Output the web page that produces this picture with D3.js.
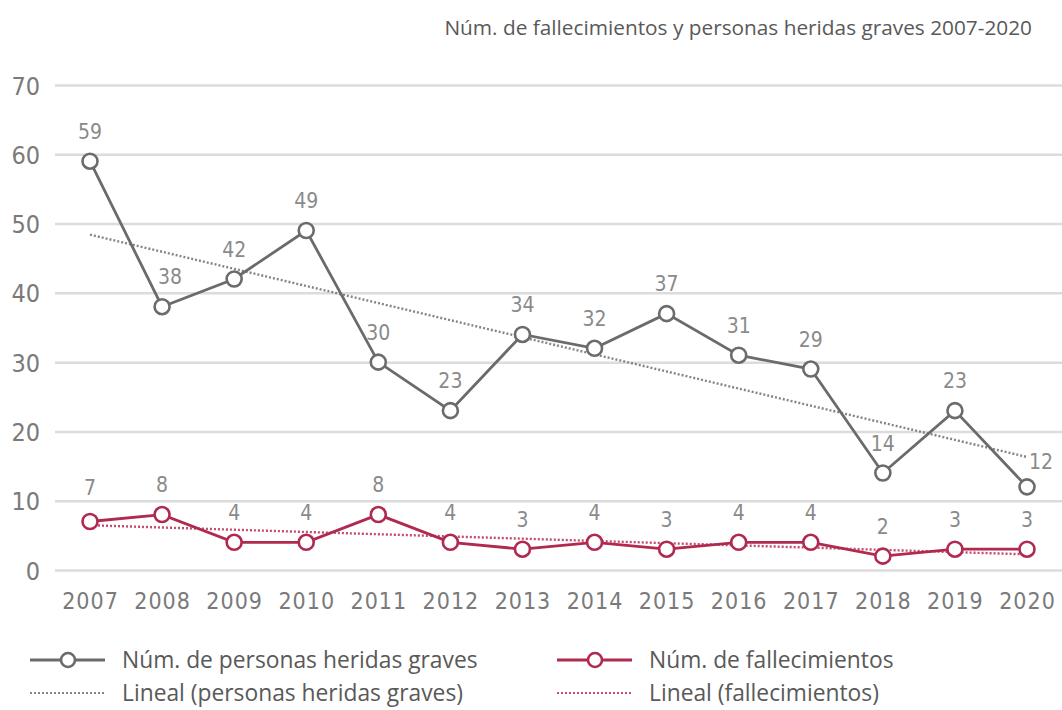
<!DOCTYPE html>
<html><head><meta charset="utf-8">
<script src="https://cdn.jsdelivr.net/npm/d3@7"></script>
<style>
html,body{margin:0;padding:0;background:#fff;}
svg{display:block;}
</style></head>
<body>
<svg id="chart" width="1062" height="710"></svg>
<script>
const years = ["2007","2008","2009","2010","2011","2012","2013","2014","2015","2016","2017","2018","2019","2020"];
const heridas = [59,38,42,49,30,23,34,32,37,31,29,14,23,12];
const fallecimientos = [7,8,4,4,8,4,3,4,3,4,4,2,3,3];
const yTicks = [0,10,20,30,40,50,60,70];
const title = "Núm. de fallecimientos y personas heridas graves 2007-2020";
const legendLabels = ["Núm. de personas heridas graves","Núm. de fallecimientos","Lineal (personas heridas graves)","Lineal (fallecimientos)"];

const grey = "#6b6b6b", red = "#b02a50", greyTrend = "#858585", redTrend = "#c44b6e";
const numFont = "'DejaVu Sans Condensed', 'DejaVu Sans', sans-serif";
const svg = d3.select("#chart");

const x = d3.scalePoint().domain(years).range([90, 1027]);
const y = d3.scaleLinear().domain([0, 70]).range([570, 85]);

// title
svg.append("text").attr("x", 1032).attr("y", 35).attr("text-anchor", "end")
  .attr("font-family", "Open Sans, sans-serif").attr("font-size", 20.8).attr("fill", "#595959").text(title);

// gridlines + y axis
const yAxis = d3.axisLeft(y).tickValues(yTicks).tickSize(-(1062 - 55)).tickPadding(14);
const gy = svg.append("g").attr("transform", "translate(55,0)").call(yAxis);
gy.select(".domain").remove();
gy.selectAll(".tick line").attr("stroke", "#dcdcdc").attr("stroke-width", 2.5);
gy.selectAll(".tick text").attr("font-family", numFont).attr("font-size", 25)
  .attr("fill", "#7a7a7a").attr("x", -15).attr("dy", "0.36em");

// x axis
const xAxis = d3.axisBottom(x).tickSize(0).tickPadding(0);
const gx = svg.append("g").attr("transform", "translate(0,601)").call(xAxis);
gx.select(".domain").remove();
gx.selectAll(".tick text").attr("font-family", numFont).attr("font-size", 23)
  .attr("fill", "#7a7a7a").attr("dy", "0.36em").attr("letter-spacing", "1");

// regression trend lines
function fit(vals) {
  const n = vals.length, xs = d3.range(n);
  const mx = d3.mean(xs), my = d3.mean(vals);
  const b = d3.sum(xs, i => (i - mx) * (vals[i] - my)) / d3.sum(xs, i => (i - mx) ** 2);
  const a = my - b * mx;
  return [[0, a], [n - 1, a + b * (n - 1)]];
}
const trendLine = d3.line().x(d => x(years[d[0]])).y(d => y(d[1]));
svg.append("path").attr("d", trendLine(fit(heridas))).attr("fill", "none")
  .attr("stroke", greyTrend).attr("stroke-width", 2.4).attr("stroke-dasharray", "2,2");
svg.append("path").attr("d", trendLine(fit(fallecimientos))).attr("fill", "none")
  .attr("stroke", redTrend).attr("stroke-width", 2.4).attr("stroke-dasharray", "2,2");

const line = d3.line().x((d, i) => x(years[i])).y(d => y(d));
function series(vals, color, labelOffsets) {
  svg.append("path").attr("d", line(vals)).attr("fill", "none").attr("stroke", color).attr("stroke-width", 2.8);
  svg.append("g").selectAll("circle").data(vals).join("circle")
    .attr("cx", (d, i) => x(years[i])).attr("cy", d => y(d)).attr("r", 7.5)
    .attr("fill", "#fff").attr("stroke", color).attr("stroke-width", 2.6);
  svg.append("g").selectAll("text").data(vals).join("text")
    .attr("x", (d, i) => x(years[i]) + (labelOffsets[i] ? labelOffsets[i][0] : 0))
    .attr("y", (d, i) => y(d) - 30 + (labelOffsets[i] ? labelOffsets[i][1] : 0))
    .attr("dy", "0.36em").attr("text-anchor", "middle")
    .attr("font-family", numFont).attr("font-size", 21).attr("fill", "#8a8a8a")
    .text(d => d);
}
series(heridas, grey, {1: [8, 0], 13: [14, 5]});
series(fallecimientos, red, {0: [0, -4]});

// legend
const lg = svg.append("g").attr("font-family", "Open Sans, sans-serif").attr("font-size", 22.8).attr("fill", "#595959");
function legendItem(x0, yy, color, type, label) {
  if (type === "marker") {
    lg.append("line").attr("x1", x0).attr("x2", x0 + 75).attr("y1", yy).attr("y2", yy)
      .attr("stroke", color).attr("stroke-width", 2.8);
    lg.append("circle").attr("cx", x0 + 38).attr("cy", yy).attr("r", 7)
      .attr("fill", "#fff").attr("stroke", color).attr("stroke-width", 2.6);
  } else {
    lg.append("line").attr("x1", x0).attr("x2", x0 + 75).attr("y1", yy).attr("y2", yy)
      .attr("stroke", color).attr("stroke-width", 2).attr("stroke-dasharray", "2,2");
  }
  lg.append("text").attr("x", x0 + 92).attr("y", yy).attr("dy", "0.35em").text(label);
}
legendItem(30, 660, grey, "marker", legendLabels[0]);
legendItem(557, 660, red, "marker", legendLabels[1]);
legendItem(30, 693, greyTrend, "trend", legendLabels[2]);
legendItem(557, 693, redTrend, "trend", legendLabels[3]);
</script>
</body></html>
